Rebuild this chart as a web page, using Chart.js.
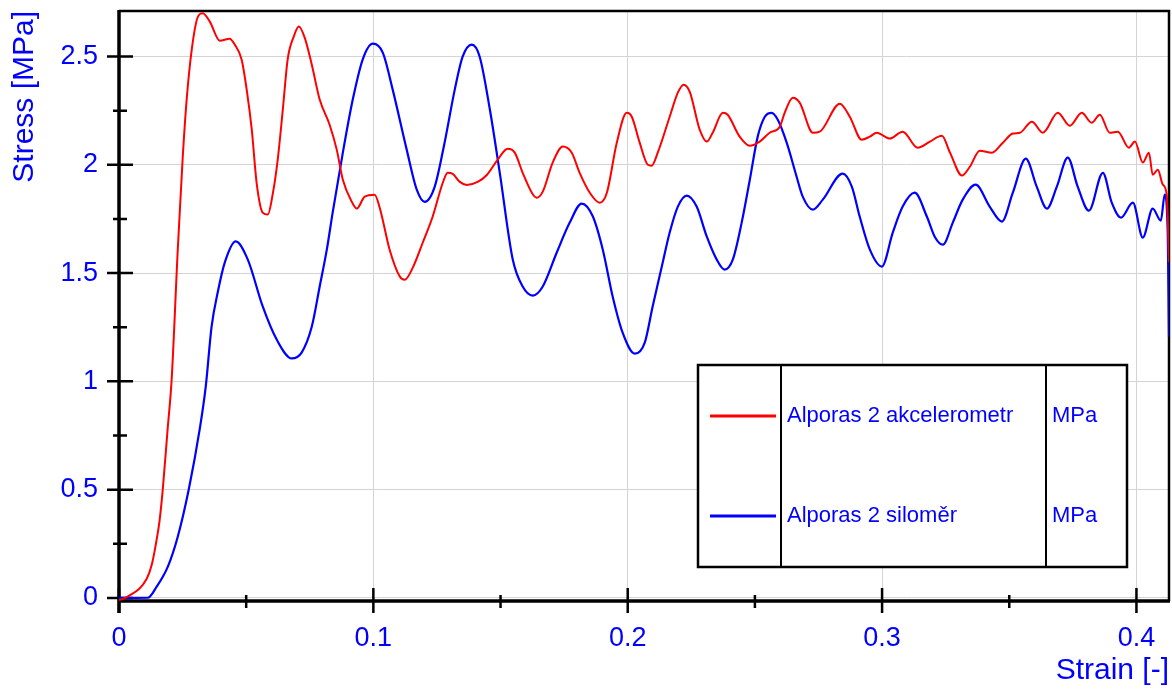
<!DOCTYPE html>
<html lang="cs">
<head>
<meta charset="UTF-8">
<title>Alporas 2 - Stress / Strain</title>
<script src="https://cdn.jsdelivr.net/npm/chart.js"></script>
<style>
  html, body { margin: 0; padding: 0; background: #fff; }
  #wrap { position: relative; width: 1172px; height: 691px; }
</style>
</head>
<body>
<div id="wrap"><canvas id="chart"></canvas></div>
<script>
// Alporas 2 akcelerometr (red)
const strainAkc = [0, 0.0034, 0.0109, 0.0129, 0.0148, 0.0160, 0.0172, 0.0191, 0.0207, 0.0231,
  0.0250, 0.0266, 0.0286, 0.0309, 0.0329, 0.0357, 0.0396, 0.0435, 0.0455, 0.0482,
  0.0502, 0.0522, 0.0541, 0.0565, 0.0585, 0.0604, 0.0624, 0.0644, 0.0663, 0.0687,
  0.0707, 0.0730, 0.0758, 0.0789, 0.0828, 0.0856, 0.0880, 0.0915, 0.0935, 0.0966,
  0.1005, 0.1025, 0.1064, 0.1104, 0.1123, 0.1155, 0.1194, 0.1233, 0.1273, 0.1292,
  0.1312, 0.1340, 0.1367, 0.1410, 0.1446, 0.1489, 0.1528, 0.1556, 0.1587, 0.1623,
  0.1642, 0.1666, 0.1705, 0.1745, 0.1780, 0.1811, 0.1851, 0.1890, 0.1918, 0.1957,
  0.1996, 0.2016, 0.2047, 0.2079, 0.2094, 0.2118, 0.2165, 0.2197, 0.2220, 0.2244,
  0.2283, 0.2311, 0.2334, 0.2374, 0.2393, 0.2440, 0.2480, 0.2519, 0.2558, 0.2598,
  0.2617, 0.2649, 0.2676, 0.2728, 0.2755, 0.2834, 0.2873, 0.2920, 0.2952, 0.2979,
  0.3030, 0.3081, 0.3140, 0.3188, 0.3235, 0.3267, 0.3314, 0.3345, 0.3384, 0.3432,
  0.3475, 0.3514, 0.3542, 0.3589, 0.3632, 0.3691, 0.3738, 0.3785, 0.3824, 0.3856,
  0.3895, 0.3927, 0.3970, 0.3994, 0.4025, 0.4049, 0.4064, 0.4084, 0.4104, 0.4119,
  0.4128];
const stressAkc = [-0.01, 0.006, 0.089, 0.154, 0.269, 0.362, 0.500, 0.777, 1.008, 1.608,
  2.024, 2.301, 2.532, 2.680, 2.700, 2.661, 2.573, 2.582, 2.555, 2.486,
  2.347, 2.162, 1.917, 1.779, 1.770, 1.862, 2.024, 2.255, 2.486, 2.592,
  2.638, 2.587, 2.462, 2.301, 2.185, 2.070, 1.931, 1.830, 1.798, 1.853,
  1.862, 1.802, 1.608, 1.484, 1.469, 1.525, 1.640, 1.760, 1.917, 1.963,
  1.958, 1.921, 1.907, 1.921, 1.953, 2.024, 2.074, 2.056, 1.963, 1.871,
  1.848, 1.876, 2.010, 2.084, 2.056, 1.963, 1.871, 1.825, 1.871, 2.102,
  2.240, 2.222, 2.102, 2.000, 1.996, 2.056, 2.222, 2.333, 2.370, 2.337,
  2.162, 2.107, 2.148, 2.240, 2.231, 2.130, 2.088, 2.107, 2.148, 2.176,
  2.240, 2.310, 2.287, 2.148, 2.153, 2.282, 2.222, 2.116, 2.130, 2.148,
  2.121, 2.153, 2.079, 2.107, 2.134, 2.056, 1.950, 1.991, 2.065, 2.056,
  2.102, 2.144, 2.148, 2.199, 2.148, 2.240, 2.180, 2.240, 2.194, 2.231,
  2.148, 2.153, 2.079, 2.107, 2.010, 2.056, 1.954, 1.977, 1.908, 1.862,
  1.550];

// Alporas 2 siloměr (blue)
const strainSil = [0, 0.0113, 0.0148, 0.0192, 0.0231, 0.0274, 0.0317, 0.0341, 0.0364, 0.0388,
  0.0416, 0.0459, 0.0506, 0.0565, 0.0620, 0.0679, 0.0718, 0.0758, 0.0789, 0.0817,
  0.0840, 0.0880, 0.0919, 0.0958, 0.0998, 0.1037, 0.1076, 0.1131, 0.1171, 0.1202,
  0.1241, 0.1280, 0.1320, 0.1351, 0.1387, 0.1418, 0.1458, 0.1497, 0.1548, 0.1587,
  0.1627, 0.1666, 0.1721, 0.1772, 0.1819, 0.1863, 0.1902, 0.1941, 0.1980, 0.2028,
  0.2067, 0.2098, 0.2134, 0.2165, 0.2197, 0.2232, 0.2271, 0.2311, 0.2350, 0.2381,
  0.2413, 0.2448, 0.2480, 0.2511, 0.2539, 0.2566, 0.2590, 0.2625, 0.2664, 0.2688,
  0.2728, 0.2767, 0.2845, 0.2881, 0.2912, 0.2952, 0.2999, 0.3042, 0.3081, 0.3128,
  0.3176, 0.3207, 0.3239, 0.3278, 0.3317, 0.3368, 0.3423, 0.3471, 0.3514, 0.3565,
  0.3608, 0.3648, 0.3687, 0.3730, 0.3769, 0.3813, 0.3868, 0.3903, 0.3939, 0.3986,
  0.4025, 0.4064, 0.4096, 0.4111, 0.4123, 0.4128];
const stressSil = [0, 0.001, 0.052, 0.145, 0.283, 0.500, 0.777, 0.976, 1.253, 1.410,
  1.549, 1.646, 1.563, 1.346, 1.193, 1.106, 1.133, 1.253, 1.438, 1.608,
  1.779, 2.056, 2.301, 2.486, 2.559, 2.518, 2.347, 2.070, 1.884, 1.829,
  1.898, 2.102, 2.347, 2.499, 2.555, 2.499, 2.255, 1.963, 1.563, 1.438,
  1.396, 1.438, 1.595, 1.733, 1.821, 1.761, 1.608, 1.391, 1.225, 1.128,
  1.179, 1.346, 1.530, 1.687, 1.807, 1.858, 1.807, 1.668, 1.562, 1.516,
  1.562, 1.733, 1.931, 2.130, 2.222, 2.240, 2.208, 2.102, 1.945, 1.853,
  1.793, 1.839, 1.959, 1.899, 1.761, 1.608, 1.530, 1.687, 1.807, 1.871,
  1.761, 1.668, 1.631, 1.733, 1.839, 1.908, 1.807, 1.738, 1.871, 2.028,
  1.899, 1.798, 1.899, 2.033, 1.899, 1.788, 1.963, 1.825, 1.756, 1.825,
  1.664, 1.798, 1.742, 1.862, 1.687, 1.206];

const seriesNames = ['Alporas 2 akcelerometr', 'Alporas 2 siloměr'];
const seriesUnits = ['MPa', 'MPa'];

const xTicks = [0, 0.1, 0.2, 0.3, 0.4];
const xTickLabels = ['0', '0.1', '0.2', '0.3', '0.4'];
const xMinorTicks = [0.05, 0.15, 0.25, 0.35];
const yTicks = [0, 0.5, 1, 1.5, 2, 2.5];
const yTickLabels = ['0', '0.5', '1', '1.5', '2', '2.5'];
const yMinorTicks = [0.25, 0.75, 1.25, 1.75, 2.25];

const BLUE = '#0000ff';
const FONT = 'Arial, "Liberation Sans", sans-serif';

function points(xs, ys) {
  return xs.map((v, i) => ({ x: v, y: ys[i] }));
}

// frame + crossing tick marks (under the curves), table-style legend on top
const framePlugin = {
  id: 'frame',
  beforeDatasetsDraw(chart) {
    const { ctx, chartArea: a, scales: { x, y } } = chart;
    ctx.save();
    ctx.strokeStyle = '#000';

    // top + right border
    ctx.lineWidth = 2.5;
    ctx.beginPath();
    ctx.moveTo(a.left, a.top);
    ctx.lineTo(a.right, a.top);
    ctx.lineTo(a.right, a.bottom);
    ctx.stroke();

    // axes
    ctx.lineWidth = 3.5;
    ctx.beginPath();
    ctx.moveTo(a.left, a.top - 1);
    ctx.lineTo(a.left, a.bottom + 12);
    ctx.moveTo(a.left - 1, a.bottom);
    ctx.lineTo(a.right + 1, a.bottom);
    ctx.stroke();

    ctx.lineWidth = 2.5;
    ctx.beginPath();
    yTicks.forEach(v => {
      const p = y.getPixelForValue(v);
      ctx.moveTo(a.left - 12, p); ctx.lineTo(a.left + 14, p);
    });
    yMinorTicks.forEach(v => {
      const p = y.getPixelForValue(v);
      ctx.moveTo(a.left - 6, p); ctx.lineTo(a.left + 8, p);
    });
    xTicks.forEach(v => {
      const p = x.getPixelForValue(v);
      ctx.moveTo(p, a.bottom - 13); ctx.lineTo(p, a.bottom + 12);
    });
    xMinorTicks.forEach(v => {
      const p = x.getPixelForValue(v);
      ctx.moveTo(p, a.bottom - 6); ctx.lineTo(p, a.bottom + 7);
    });
    ctx.stroke();
    ctx.restore();
  },
  afterDraw(chart) {
    const { ctx } = chart;
    ctx.save();
    ctx.strokeStyle = '#000';
    const L = 698, R = 1127, T = 365, B = 567, c1 = 781, c2 = 1046;
    ctx.fillStyle = '#fff';
    ctx.fillRect(L, T, R - L, B - T);
    ctx.lineWidth = 2.5;
    ctx.strokeRect(L, T, R - L, B - T);
    ctx.lineWidth = 2;
    ctx.beginPath();
    ctx.moveTo(c1, T); ctx.lineTo(c1, B);
    ctx.moveTo(c2, T); ctx.lineTo(c2, B);
    ctx.stroke();

    const rows = [416, 516];
    ctx.font = '22px ' + FONT;
    ctx.textBaseline = 'middle';
    ctx.textAlign = 'left';
    chart.data.datasets.forEach((ds, i) => {
      const ry = rows[i];
      ctx.strokeStyle = ds.borderColor;
      ctx.lineWidth = 3;
      ctx.beginPath();
      ctx.moveTo(710, ry); ctx.lineTo(776, ry);
      ctx.stroke();
      ctx.fillStyle = BLUE;
      ctx.fillText(seriesNames[i], 787, ry);
      ctx.fillText(seriesUnits[i], 1052, ry);
    });
    ctx.restore();
  }
};

new Chart(document.getElementById('chart'), {
  type: 'line',
  data: {
    datasets: [
      {
        label: seriesNames[0],
        data: points(strainAkc, stressAkc),
        borderColor: '#ff0000',
        borderWidth: 2,
        pointRadius: 0,
        cubicInterpolationMode: 'monotone'
      },
      {
        label: seriesNames[1],
        data: points(strainSil, stressSil),
        borderColor: BLUE,
        borderWidth: 2.2,
        pointRadius: 0,
        cubicInterpolationMode: 'monotone'
      }
    ]
  },
  options: {
    responsive: true,
    maintainAspectRatio: false,
    animation: false,
    layout: { autoPadding: false, padding: { top: 11, right: 3, left: 0, bottom: 0 } },
    plugins: { legend: { display: false }, tooltip: { enabled: false } },
    scales: {
      x: {
        type: 'linear',
        min: 0,
        max: 0.4128,
        afterFit: s => { s.height = 90; s.paddingLeft = 0; s.paddingRight = 0; },
        afterBuildTicks: s => { s.ticks = xTicks.map(v => ({ value: v })); },
        grid: { color: '#d4d4d4', lineWidth: 1, drawTicks: false },
        border: { display: false },
        ticks: {
          color: BLUE,
          font: { family: FONT, size: 27 },
          padding: 21,
          maxRotation: 0,
          callback: (v, i) => xTickLabels[i]
        },
        title: {
          display: true,
          text: 'Strain [-]',
          align: 'end',
          color: BLUE,
          font: { family: FONT, size: 30 },
          padding: { top: 0, bottom: 2 }
        }
      },
      y: {
        type: 'linear',
        min: -0.014,
        max: 2.71,
        afterFit: s => { s.width = 119; s.paddingTop = 0; s.paddingBottom = 0; },
        afterBuildTicks: s => { s.ticks = yTicks.map(v => ({ value: v })); },
        grid: { color: '#d4d4d4', lineWidth: 1, drawTicks: false },
        border: { display: false },
        ticks: {
          color: BLUE,
          font: { family: FONT, size: 27 },
          padding: 21,
          callback: (v, i) => yTickLabels[i]
        },
        title: {
          display: true,
          text: 'Stress [MPa]',
          align: 'end',
          color: BLUE,
          font: { family: FONT, size: 30 },
          padding: { top: 7, bottom: 0 }
        }
      }
    }
  },
  plugins: [framePlugin]
});
</script>
</body>
</html>
